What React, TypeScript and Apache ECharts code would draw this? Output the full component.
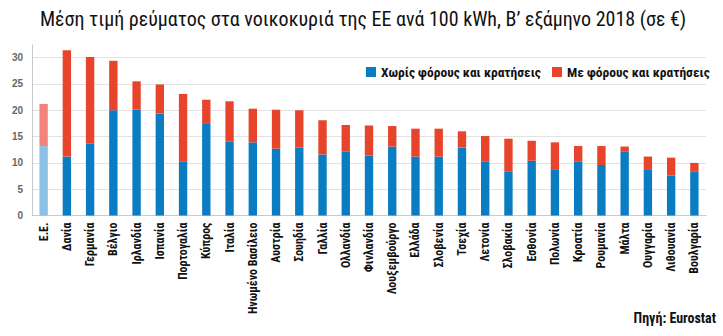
import React, { useEffect, useRef } from 'react';
import * as echarts from 'echarts';

const categories = ['Ε.Ε.', 'Δανία', 'Γερμανία', 'Βέλγιο', 'Ιρλανδία', 'Ισπανία', 'Πορτογαλία', 'Κύπρος', 'Ιταλία', 'Ηνωμένο Βασίλειο', 'Αυστρία', 'Σουηδία', 'Γαλλία', 'Ολλανδία', 'Φινλανδία', 'Λουξεμβούργο', 'Ελλάδα', 'Σλοβενία', 'Τσεχία', 'Λετονία', 'Σλοβακία', 'Εσθονία', 'Πολωνία', 'Κροατία', 'Ρουμανία', 'Μάλτα', 'Ουγγαρία', 'Λιθουανία', 'Βουλγαρία'];
const withoutTaxes = [13.2, 11.2, 13.7, 20.0, 20.1, 19.4, 10.2, 17.4, 14.1, 13.9, 12.7, 12.9, 11.6, 12.1, 11.4, 13.1, 11.2, 11.2, 12.9, 10.3, 8.4, 10.4, 8.8, 10.2, 9.6, 12.2, 8.8, 7.6, 8.3];
const withTaxes = [21.2, 31.4, 30.1, 29.4, 25.5, 24.9, 23.1, 22.0, 21.7, 20.3, 20.1, 20.0, 18.1, 17.2, 17.1, 17.0, 16.5, 16.5, 16.0, 15.1, 14.6, 14.2, 13.9, 13.2, 13.2, 13.1, 11.2, 11.0, 10.0];
const yTicks = [5, 10, 15, 20, 25, 30];

const seriesNames = ['Χωρίς φόρους και κρατήσεις', 'Με φόρους και κρατήσεις'];
const TITLE = 'Μέση τιμή ρεύματος στα νοικοκυριά της ΕΕ ανά 100 kWh, Β’ εξάμηνο 2018 (σε €)';
const SOURCE = 'Πηγή: Eurostat';
const FONT = '"Roboto Condensed", "Liberation Sans", sans-serif';

const BLUE = '#0a7dc2';
const RED = '#e8442b';
const BLUE_LIGHT = '#8dc0e6';
const RED_LIGHT = '#f2857b';

export default function App() {
  const ref = useRef<HTMLDivElement>(null);
  useEffect(() => {
    document.body.style.margin = '0';
    if (!ref.current) return;
    const chart = echarts.init(ref.current, null, { renderer: 'svg' });
    const baseData = withoutTaxes.map((v, i) => ({
      value: v,
      itemStyle: { color: i === 0 ? BLUE_LIGHT : BLUE },
    }));
    const taxData = withTaxes.map((t, i) => ({
      value: +(t - withoutTaxes[i]).toFixed(2),
      itemStyle: { color: i === 0 ? RED_LIGHT : RED },
    }));
    const legendText = { fontFamily: FONT, fontSize: 13.5, fontWeight: 'bold', color: '#111' };
    chart.setOption({
      animation: false,
      backgroundColor: '#ffffff',
      title: {
        text: TITLE,
        left: 40,
        top: 9,
        padding: 0,
        textStyle: { fontFamily: FONT, fontSize: 20, fontWeight: 'normal', color: '#111' },
      },
      legend: [
        {
          left: 366,
          top: 65,
          padding: 0,
          itemWidth: 10,
          itemHeight: 10,
          itemGap: 5,
          icon: 'rect',
          textStyle: legendText,
          data: [{ name: seriesNames[0], itemStyle: { color: BLUE } }],
        },
        {
          left: 552,
          top: 65,
          padding: 0,
          itemWidth: 10,
          itemHeight: 10,
          icon: 'rect',
          textStyle: legendText,
          data: [{ name: seriesNames[1], itemStyle: { color: RED } }],
        },
      ],
      grid: { left: 32, right: 17, top: 45, bottom: 120.5, containLabel: false },
      xAxis: [
        {
          type: 'category',
          data: categories,
          axisLine: { lineStyle: { color: '#c4cad0' } },
          axisTick: { length: 5, lineStyle: { color: '#b8bec4' } },
          axisLabel: {
            rotate: 90,
            interval: 0,
            margin: 7,
            fontFamily: FONT,
            fontSize: 12,
            fontWeight: 'bold',
            color: '#111',
          },
        },
        {
          type: 'category',
          data: categories,
          position: 'bottom',
          axisLine: { show: false },
          axisTick: { length: 66, lineStyle: { color: '#ececec' } },
          axisLabel: { show: false },
        },
      ],
      yAxis: {
        type: 'value',
        min: 0,
        max: 32.4,
        interval: 5,
        axisLine: { show: true, lineStyle: { color: '#c4cad0' } },
        axisTick: { show: false },
        splitLine: { show: false },
        axisLabel: {
          formatter: (v: number) => (v % 5 === 0 ? String(v) : ''),
          fontFamily: '"Liberation Sans", Arial, sans-serif',
          fontSize: 10,
          fontWeight: 'bold',
          color: '#666',
          margin: 9,
        },
      },
      series: [
        {
          name: seriesNames[0],
          type: 'bar',
          stack: 'total',
          barWidth: '36%',
          data: baseData,
          itemStyle: { color: BLUE },
          markLine: {
            silent: true,
            symbol: 'none',
            label: { show: false },
            lineStyle: { color: '#e2e2e2', type: 'solid', width: 1 },
            data: yTicks.map((t) => ({ yAxis: t })),
            z: 0,
          },
          z: 3,
        },
        {
          name: seriesNames[1],
          type: 'bar',
          stack: 'total',
          barWidth: '36%',
          data: taxData,
          itemStyle: { color: RED },
          z: 3,
        },
      ],
      graphic: [
        {
          type: 'text',
          right: 7,
          top: 311,
          style: {
            text: SOURCE,
            fontFamily: FONT,
            fontSize: 14,
            fontWeight: 'bold',
            fill: '#111',
          },
        },
      ],
    });
    return () => chart.dispose();
  }, []);
  return <div ref={ref} style={{ width: 723, height: 336 }} />;
}
